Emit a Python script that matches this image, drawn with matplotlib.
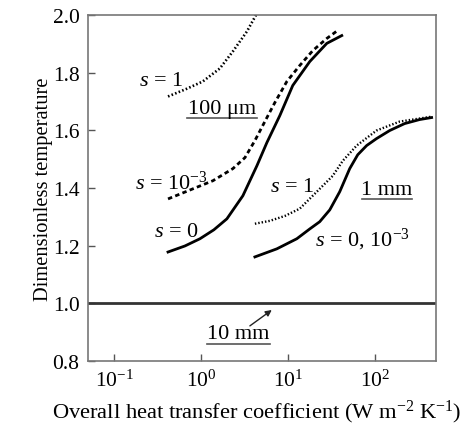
import matplotlib
matplotlib.use("Agg")
import matplotlib.pyplot as plt

plt.rcParams['font.family'] = ['Liberation Serif', 'DejaVu Serif']
plt.rcParams['mathtext.fontset'] = 'custom'
plt.rcParams['mathtext.rm'] = 'Liberation Serif'
plt.rcParams['mathtext.it'] = 'Liberation Serif:italic'

# 100 um particles
h_100_s1 = [0.418, 0.69, 1.05, 1.65, 2.33, 3.38, 4.41]
t_100_s1 = [1.717, 1.744, 1.769, 1.814, 1.873, 1.942, 2.005]

h_100_s3 = [0.418, 0.809, 1.374, 2.333, 3.21, 4.18, 5.44, 7.10, 9.75, 13.7, 19.4, 28.1, 37.6]
t_100_s3 = [1.362, 1.397, 1.425, 1.467, 1.505, 1.564, 1.630, 1.696, 1.769, 1.824, 1.876, 1.918, 1.946]

h_100_s0 = [0.418, 0.655, 0.975, 1.41, 1.99, 3.04, 4.41, 5.74, 8.10, 11.4, 17.9, 28.1, 41.8]
t_100_s0 = [1.178, 1.199, 1.224, 1.255, 1.293, 1.373, 1.477, 1.557, 1.651, 1.755, 1.838, 1.901, 1.928]

# 1 mm particles
h_1mm_s1 = [4.18, 6.21, 9.25, 13.7, 23.3, 32.9, 42.9, 62.1, 105, 194, 452]
t_1mm_s1 = [1.276, 1.286, 1.303, 1.328, 1.397, 1.442, 1.494, 1.547, 1.599, 1.630, 1.647]

h_1mm_s0 = [4.18, 7.48, 12.7, 17.9, 23.3, 30.4, 39.6, 51.6, 63.8, 80.9, 105, 149, 221, 329, 452]
t_1mm_s0 = [1.161, 1.189, 1.224, 1.258, 1.283, 1.324, 1.387, 1.467, 1.515, 1.547, 1.571, 1.599, 1.623, 1.637, 1.644]

# 10 mm particles stay at the fluid temperature
t_10mm = 1.0

fig = plt.figure(figsize=(4.70, 4.27), dpi=100)
ax = fig.add_axes([0.187, 0.152, 0.741, 0.811])

ax.axhline(t_10mm, color='#333333', lw=2.0)
ax.plot(h_100_s1, t_100_s1, color='black', lw=1.9, ls=(0, (0.6, 0.85)))
ax.plot(h_100_s3, t_100_s3, color='black', lw=2.0, ls=(0, (1.6, 1.2)))
ax.plot(h_100_s0, t_100_s0, color='black', lw=2.0)
ax.plot(h_1mm_s1, t_1mm_s1, color='black', lw=1.7, ls=(0, (0.6, 0.85)))
ax.plot(h_1mm_s0, t_1mm_s0, color='black', lw=2.0)

ax.set_xscale('log')
ax.set_xlim(0.05, 510)
ax.set_ylim(0.8, 2.0)
ax.set_yticks([0.8, 1.0, 1.2, 1.4, 1.6, 1.8, 2.0])
ax.set_xticks([0.1, 1, 10, 100])
ax.set_xticklabels(['10$^{-1}$', '10$^{0}$', '10$^{1}$', '10$^{2}$'])
ax.minorticks_off()
ax.tick_params(direction='in', length=5, width=1, color='#555555', labelsize=15.5, pad=6)
for sp in ax.spines.values():
    sp.set_color('#777777')
    sp.set_linewidth(1.2)

ax.set_xlabel('Overall heat transfer coefficient (W m$^{-2}$ K$^{-1}$)', fontsize=16.2,
              labelpad=5, x=0.485)
ax.set_ylabel('Dimensionless temperature', fontsize=14.8, labelpad=0)

fs = 16
ax.text(0.347, 1.772, '$s$ = 1', fontsize=fs, ha='center', va='center')
ax.text(1.74, 1.675, '100 μm', fontsize=fs, ha='center', va='center')
ax.text(0.46, 1.42, '$s$ = 10$^{-3}$', fontsize=fs, ha='center', va='center')
ax.text(0.516, 1.248, '$s$ = 0', fontsize=fs, ha='center', va='center')
ax.text(11.1, 1.404, '$s$ = 1', fontsize=fs, ha='center', va='center')
ax.text(137, 1.394, '1 mm', fontsize=fs, ha='center', va='center')
ax.text(72.8, 1.224, '$s$ = 0, 10$^{-3}$', fontsize=fs, ha='center', va='center')
ax.text(2.66, 0.894, '10 mm', fontsize=fs, ha='center', va='center')

# underlines under the size labels
ax.plot([0.69, 4.41], [1.644, 1.644], color='#555555', lw=1.2)
ax.plot([71, 266], [1.3625, 1.3625], color='#555555', lw=1.2)
ax.plot([1.17, 6.21], [0.859, 0.859], color='#555555', lw=1.2)

ax.annotate('', xy=(6.54, 0.977), xytext=(3.66, 0.922),
            arrowprops=dict(arrowstyle='-|>', color='#222222', lw=1.0,
                            mutation_scale=9, shrinkA=0, shrinkB=0))

fig.savefig('out.png', dpi=100)
